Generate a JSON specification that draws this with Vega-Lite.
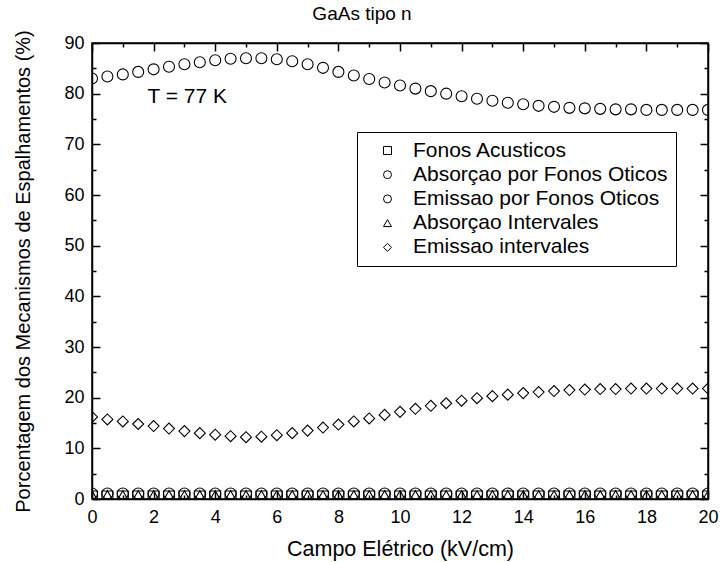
{
  "$schema": "https://vega.github.io/schema/vega-lite/v6.json",
  "width": 616,
  "height": 456,
  "autosize": {"type": "none"},
  "padding": {"left": 92, "top": 43, "right": 12, "bottom": 63},
  "background": "white",
  "title": {"text": "GaAs tipo n", "fontSize": 19, "fontWeight": "normal", "font": "Liberation Sans", "color": "black", "anchor": "middle", "dx": -38, "offset": 6},
  "config": {
    "view": {"stroke": "black", "strokeWidth": 1.5},
    "axis": {"labelFont": "Liberation Sans", "titleFont": "Liberation Sans", "labelFontSize": 18, "titleFontSize": 20, "titleFontWeight": "normal", "labelColor": "black", "titleColor": "black", "tickColor": "black", "domainColor": "black", "grid": false, "tickWidth": 1.5, "domainWidth": 1.5, "labelFlush": false, "labelOverlap": false}
  },
  "datasets": {
    "d": [
      {"campo": 0, "pct": 83.0, "serie": "Emissao por Fonos Oticos"},
      {"campo": 0.5, "pct": 83.4, "serie": "Emissao por Fonos Oticos"},
      {"campo": 1, "pct": 83.8, "serie": "Emissao por Fonos Oticos"},
      {"campo": 1.5, "pct": 84.3, "serie": "Emissao por Fonos Oticos"},
      {"campo": 2, "pct": 84.8, "serie": "Emissao por Fonos Oticos"},
      {"campo": 2.5, "pct": 85.3, "serie": "Emissao por Fonos Oticos"},
      {"campo": 3, "pct": 85.8, "serie": "Emissao por Fonos Oticos"},
      {"campo": 3.5, "pct": 86.2, "serie": "Emissao por Fonos Oticos"},
      {"campo": 4, "pct": 86.6, "serie": "Emissao por Fonos Oticos"},
      {"campo": 4.5, "pct": 86.9, "serie": "Emissao por Fonos Oticos"},
      {"campo": 5, "pct": 87.0, "serie": "Emissao por Fonos Oticos"},
      {"campo": 5.5, "pct": 87.0, "serie": "Emissao por Fonos Oticos"},
      {"campo": 6, "pct": 86.8, "serie": "Emissao por Fonos Oticos"},
      {"campo": 6.5, "pct": 86.4, "serie": "Emissao por Fonos Oticos"},
      {"campo": 7, "pct": 85.8, "serie": "Emissao por Fonos Oticos"},
      {"campo": 7.5, "pct": 85.1, "serie": "Emissao por Fonos Oticos"},
      {"campo": 8, "pct": 84.3, "serie": "Emissao por Fonos Oticos"},
      {"campo": 8.5, "pct": 83.6, "serie": "Emissao por Fonos Oticos"},
      {"campo": 9, "pct": 82.9, "serie": "Emissao por Fonos Oticos"},
      {"campo": 9.5, "pct": 82.2, "serie": "Emissao por Fonos Oticos"},
      {"campo": 10, "pct": 81.6, "serie": "Emissao por Fonos Oticos"},
      {"campo": 10.5, "pct": 81.0, "serie": "Emissao por Fonos Oticos"},
      {"campo": 11, "pct": 80.5, "serie": "Emissao por Fonos Oticos"},
      {"campo": 11.5, "pct": 80.0, "serie": "Emissao por Fonos Oticos"},
      {"campo": 12, "pct": 79.5, "serie": "Emissao por Fonos Oticos"},
      {"campo": 12.5, "pct": 79.0, "serie": "Emissao por Fonos Oticos"},
      {"campo": 13, "pct": 78.6, "serie": "Emissao por Fonos Oticos"},
      {"campo": 13.5, "pct": 78.2, "serie": "Emissao por Fonos Oticos"},
      {"campo": 14, "pct": 77.9, "serie": "Emissao por Fonos Oticos"},
      {"campo": 14.5, "pct": 77.6, "serie": "Emissao por Fonos Oticos"},
      {"campo": 15, "pct": 77.4, "serie": "Emissao por Fonos Oticos"},
      {"campo": 15.5, "pct": 77.2, "serie": "Emissao por Fonos Oticos"},
      {"campo": 16, "pct": 77.1, "serie": "Emissao por Fonos Oticos"},
      {"campo": 16.5, "pct": 77.0, "serie": "Emissao por Fonos Oticos"},
      {"campo": 17, "pct": 76.9, "serie": "Emissao por Fonos Oticos"},
      {"campo": 17.5, "pct": 76.9, "serie": "Emissao por Fonos Oticos"},
      {"campo": 18, "pct": 76.8, "serie": "Emissao por Fonos Oticos"},
      {"campo": 18.5, "pct": 76.8, "serie": "Emissao por Fonos Oticos"},
      {"campo": 19, "pct": 76.8, "serie": "Emissao por Fonos Oticos"},
      {"campo": 19.5, "pct": 76.8, "serie": "Emissao por Fonos Oticos"},
      {"campo": 20, "pct": 76.8, "serie": "Emissao por Fonos Oticos"},

      {"campo": 0, "pct": 16.2, "serie": "Emissao intervales"},
      {"campo": 0.5, "pct": 15.7, "serie": "Emissao intervales"},
      {"campo": 1, "pct": 15.3, "serie": "Emissao intervales"},
      {"campo": 1.5, "pct": 14.8, "serie": "Emissao intervales"},
      {"campo": 2, "pct": 14.4, "serie": "Emissao intervales"},
      {"campo": 2.5, "pct": 13.9, "serie": "Emissao intervales"},
      {"campo": 3, "pct": 13.4, "serie": "Emissao intervales"},
      {"campo": 3.5, "pct": 13.0, "serie": "Emissao intervales"},
      {"campo": 4, "pct": 12.7, "serie": "Emissao intervales"},
      {"campo": 4.5, "pct": 12.4, "serie": "Emissao intervales"},
      {"campo": 5, "pct": 12.2, "serie": "Emissao intervales"},
      {"campo": 5.5, "pct": 12.3, "serie": "Emissao intervales"},
      {"campo": 6, "pct": 12.6, "serie": "Emissao intervales"},
      {"campo": 6.5, "pct": 13.0, "serie": "Emissao intervales"},
      {"campo": 7, "pct": 13.5, "serie": "Emissao intervales"},
      {"campo": 7.5, "pct": 14.1, "serie": "Emissao intervales"},
      {"campo": 8, "pct": 14.7, "serie": "Emissao intervales"},
      {"campo": 8.5, "pct": 15.3, "serie": "Emissao intervales"},
      {"campo": 9, "pct": 15.9, "serie": "Emissao intervales"},
      {"campo": 9.5, "pct": 16.6, "serie": "Emissao intervales"},
      {"campo": 10, "pct": 17.2, "serie": "Emissao intervales"},
      {"campo": 10.5, "pct": 17.8, "serie": "Emissao intervales"},
      {"campo": 11, "pct": 18.4, "serie": "Emissao intervales"},
      {"campo": 11.5, "pct": 18.9, "serie": "Emissao intervales"},
      {"campo": 12, "pct": 19.4, "serie": "Emissao intervales"},
      {"campo": 12.5, "pct": 19.9, "serie": "Emissao intervales"},
      {"campo": 13, "pct": 20.3, "serie": "Emissao intervales"},
      {"campo": 13.5, "pct": 20.6, "serie": "Emissao intervales"},
      {"campo": 14, "pct": 20.9, "serie": "Emissao intervales"},
      {"campo": 14.5, "pct": 21.1, "serie": "Emissao intervales"},
      {"campo": 15, "pct": 21.3, "serie": "Emissao intervales"},
      {"campo": 15.5, "pct": 21.5, "serie": "Emissao intervales"},
      {"campo": 16, "pct": 21.6, "serie": "Emissao intervales"},
      {"campo": 16.5, "pct": 21.7, "serie": "Emissao intervales"},
      {"campo": 17, "pct": 21.7, "serie": "Emissao intervales"},
      {"campo": 17.5, "pct": 21.8, "serie": "Emissao intervales"},
      {"campo": 18, "pct": 21.8, "serie": "Emissao intervales"},
      {"campo": 18.5, "pct": 21.8, "serie": "Emissao intervales"},
      {"campo": 19, "pct": 21.8, "serie": "Emissao intervales"},
      {"campo": 19.5, "pct": 21.8, "serie": "Emissao intervales"},
      {"campo": 20, "pct": 21.8, "serie": "Emissao intervales"},

      {"campo": 0, "pct": 0.5, "serie": "Fonos Acusticos"},
      {"campo": 0.5, "pct": 0.5, "serie": "Fonos Acusticos"},
      {"campo": 1, "pct": 0.5, "serie": "Fonos Acusticos"},
      {"campo": 1.5, "pct": 0.5, "serie": "Fonos Acusticos"},
      {"campo": 2, "pct": 0.5, "serie": "Fonos Acusticos"},
      {"campo": 2.5, "pct": 0.5, "serie": "Fonos Acusticos"},
      {"campo": 3, "pct": 0.5, "serie": "Fonos Acusticos"},
      {"campo": 3.5, "pct": 0.5, "serie": "Fonos Acusticos"},
      {"campo": 4, "pct": 0.5, "serie": "Fonos Acusticos"},
      {"campo": 4.5, "pct": 0.5, "serie": "Fonos Acusticos"},
      {"campo": 5, "pct": 0.5, "serie": "Fonos Acusticos"},
      {"campo": 5.5, "pct": 0.5, "serie": "Fonos Acusticos"},
      {"campo": 6, "pct": 0.5, "serie": "Fonos Acusticos"},
      {"campo": 6.5, "pct": 0.5, "serie": "Fonos Acusticos"},
      {"campo": 7, "pct": 0.5, "serie": "Fonos Acusticos"},
      {"campo": 7.5, "pct": 0.5, "serie": "Fonos Acusticos"},
      {"campo": 8, "pct": 0.5, "serie": "Fonos Acusticos"},
      {"campo": 8.5, "pct": 0.5, "serie": "Fonos Acusticos"},
      {"campo": 9, "pct": 0.5, "serie": "Fonos Acusticos"},
      {"campo": 9.5, "pct": 0.5, "serie": "Fonos Acusticos"},
      {"campo": 10, "pct": 0.5, "serie": "Fonos Acusticos"},
      {"campo": 10.5, "pct": 0.5, "serie": "Fonos Acusticos"},
      {"campo": 11, "pct": 0.5, "serie": "Fonos Acusticos"},
      {"campo": 11.5, "pct": 0.5, "serie": "Fonos Acusticos"},
      {"campo": 12, "pct": 0.5, "serie": "Fonos Acusticos"},
      {"campo": 12.5, "pct": 0.5, "serie": "Fonos Acusticos"},
      {"campo": 13, "pct": 0.5, "serie": "Fonos Acusticos"},
      {"campo": 13.5, "pct": 0.5, "serie": "Fonos Acusticos"},
      {"campo": 14, "pct": 0.5, "serie": "Fonos Acusticos"},
      {"campo": 14.5, "pct": 0.5, "serie": "Fonos Acusticos"},
      {"campo": 15, "pct": 0.5, "serie": "Fonos Acusticos"},
      {"campo": 15.5, "pct": 0.5, "serie": "Fonos Acusticos"},
      {"campo": 16, "pct": 0.5, "serie": "Fonos Acusticos"},
      {"campo": 16.5, "pct": 0.5, "serie": "Fonos Acusticos"},
      {"campo": 17, "pct": 0.5, "serie": "Fonos Acusticos"},
      {"campo": 17.5, "pct": 0.5, "serie": "Fonos Acusticos"},
      {"campo": 18, "pct": 0.5, "serie": "Fonos Acusticos"},
      {"campo": 18.5, "pct": 0.5, "serie": "Fonos Acusticos"},
      {"campo": 19, "pct": 0.5, "serie": "Fonos Acusticos"},
      {"campo": 19.5, "pct": 0.5, "serie": "Fonos Acusticos"},
      {"campo": 20, "pct": 0.5, "serie": "Fonos Acusticos"},

      {"campo": 0, "pct": 1.1, "serie": "Absorçao por Fonos Oticos"},
      {"campo": 0.5, "pct": 1.1, "serie": "Absorçao por Fonos Oticos"},
      {"campo": 1, "pct": 1.1, "serie": "Absorçao por Fonos Oticos"},
      {"campo": 1.5, "pct": 1.1, "serie": "Absorçao por Fonos Oticos"},
      {"campo": 2, "pct": 1.1, "serie": "Absorçao por Fonos Oticos"},
      {"campo": 2.5, "pct": 1.1, "serie": "Absorçao por Fonos Oticos"},
      {"campo": 3, "pct": 1.1, "serie": "Absorçao por Fonos Oticos"},
      {"campo": 3.5, "pct": 1.1, "serie": "Absorçao por Fonos Oticos"},
      {"campo": 4, "pct": 1.1, "serie": "Absorçao por Fonos Oticos"},
      {"campo": 4.5, "pct": 1.1, "serie": "Absorçao por Fonos Oticos"},
      {"campo": 5, "pct": 1.1, "serie": "Absorçao por Fonos Oticos"},
      {"campo": 5.5, "pct": 1.1, "serie": "Absorçao por Fonos Oticos"},
      {"campo": 6, "pct": 1.1, "serie": "Absorçao por Fonos Oticos"},
      {"campo": 6.5, "pct": 1.1, "serie": "Absorçao por Fonos Oticos"},
      {"campo": 7, "pct": 1.1, "serie": "Absorçao por Fonos Oticos"},
      {"campo": 7.5, "pct": 1.1, "serie": "Absorçao por Fonos Oticos"},
      {"campo": 8, "pct": 1.1, "serie": "Absorçao por Fonos Oticos"},
      {"campo": 8.5, "pct": 1.1, "serie": "Absorçao por Fonos Oticos"},
      {"campo": 9, "pct": 1.1, "serie": "Absorçao por Fonos Oticos"},
      {"campo": 9.5, "pct": 1.1, "serie": "Absorçao por Fonos Oticos"},
      {"campo": 10, "pct": 1.1, "serie": "Absorçao por Fonos Oticos"},
      {"campo": 10.5, "pct": 1.1, "serie": "Absorçao por Fonos Oticos"},
      {"campo": 11, "pct": 1.1, "serie": "Absorçao por Fonos Oticos"},
      {"campo": 11.5, "pct": 1.1, "serie": "Absorçao por Fonos Oticos"},
      {"campo": 12, "pct": 1.1, "serie": "Absorçao por Fonos Oticos"},
      {"campo": 12.5, "pct": 1.1, "serie": "Absorçao por Fonos Oticos"},
      {"campo": 13, "pct": 1.1, "serie": "Absorçao por Fonos Oticos"},
      {"campo": 13.5, "pct": 1.1, "serie": "Absorçao por Fonos Oticos"},
      {"campo": 14, "pct": 1.1, "serie": "Absorçao por Fonos Oticos"},
      {"campo": 14.5, "pct": 1.1, "serie": "Absorçao por Fonos Oticos"},
      {"campo": 15, "pct": 1.1, "serie": "Absorçao por Fonos Oticos"},
      {"campo": 15.5, "pct": 1.1, "serie": "Absorçao por Fonos Oticos"},
      {"campo": 16, "pct": 1.1, "serie": "Absorçao por Fonos Oticos"},
      {"campo": 16.5, "pct": 1.1, "serie": "Absorçao por Fonos Oticos"},
      {"campo": 17, "pct": 1.1, "serie": "Absorçao por Fonos Oticos"},
      {"campo": 17.5, "pct": 1.1, "serie": "Absorçao por Fonos Oticos"},
      {"campo": 18, "pct": 1.1, "serie": "Absorçao por Fonos Oticos"},
      {"campo": 18.5, "pct": 1.1, "serie": "Absorçao por Fonos Oticos"},
      {"campo": 19, "pct": 1.1, "serie": "Absorçao por Fonos Oticos"},
      {"campo": 19.5, "pct": 1.1, "serie": "Absorçao por Fonos Oticos"},
      {"campo": 20, "pct": 1.1, "serie": "Absorçao por Fonos Oticos"},

      {"campo": 0, "pct": 0.7, "serie": "Absorçao Intervales"},
      {"campo": 0.5, "pct": 0.7, "serie": "Absorçao Intervales"},
      {"campo": 1, "pct": 0.7, "serie": "Absorçao Intervales"},
      {"campo": 1.5, "pct": 0.7, "serie": "Absorçao Intervales"},
      {"campo": 2, "pct": 0.7, "serie": "Absorçao Intervales"},
      {"campo": 2.5, "pct": 0.7, "serie": "Absorçao Intervales"},
      {"campo": 3, "pct": 0.7, "serie": "Absorçao Intervales"},
      {"campo": 3.5, "pct": 0.7, "serie": "Absorçao Intervales"},
      {"campo": 4, "pct": 0.7, "serie": "Absorçao Intervales"},
      {"campo": 4.5, "pct": 0.7, "serie": "Absorçao Intervales"},
      {"campo": 5, "pct": 0.7, "serie": "Absorçao Intervales"},
      {"campo": 5.5, "pct": 0.7, "serie": "Absorçao Intervales"},
      {"campo": 6, "pct": 0.7, "serie": "Absorçao Intervales"},
      {"campo": 6.5, "pct": 0.7, "serie": "Absorçao Intervales"},
      {"campo": 7, "pct": 0.7, "serie": "Absorçao Intervales"},
      {"campo": 7.5, "pct": 0.7, "serie": "Absorçao Intervales"},
      {"campo": 8, "pct": 0.7, "serie": "Absorçao Intervales"},
      {"campo": 8.5, "pct": 0.7, "serie": "Absorçao Intervales"},
      {"campo": 9, "pct": 0.7, "serie": "Absorçao Intervales"},
      {"campo": 9.5, "pct": 0.7, "serie": "Absorçao Intervales"},
      {"campo": 10, "pct": 0.7, "serie": "Absorçao Intervales"},
      {"campo": 10.5, "pct": 0.7, "serie": "Absorçao Intervales"},
      {"campo": 11, "pct": 0.7, "serie": "Absorçao Intervales"},
      {"campo": 11.5, "pct": 0.7, "serie": "Absorçao Intervales"},
      {"campo": 12, "pct": 0.7, "serie": "Absorçao Intervales"},
      {"campo": 12.5, "pct": 0.7, "serie": "Absorçao Intervales"},
      {"campo": 13, "pct": 0.7, "serie": "Absorçao Intervales"},
      {"campo": 13.5, "pct": 0.7, "serie": "Absorçao Intervales"},
      {"campo": 14, "pct": 0.7, "serie": "Absorçao Intervales"},
      {"campo": 14.5, "pct": 0.7, "serie": "Absorçao Intervales"},
      {"campo": 15, "pct": 0.7, "serie": "Absorçao Intervales"},
      {"campo": 15.5, "pct": 0.7, "serie": "Absorçao Intervales"},
      {"campo": 16, "pct": 0.7, "serie": "Absorçao Intervales"},
      {"campo": 16.5, "pct": 0.7, "serie": "Absorçao Intervales"},
      {"campo": 17, "pct": 0.7, "serie": "Absorçao Intervales"},
      {"campo": 17.5, "pct": 0.7, "serie": "Absorçao Intervales"},
      {"campo": 18, "pct": 0.7, "serie": "Absorçao Intervales"},
      {"campo": 18.5, "pct": 0.7, "serie": "Absorçao Intervales"},
      {"campo": 19, "pct": 0.7, "serie": "Absorçao Intervales"},
      {"campo": 19.5, "pct": 0.7, "serie": "Absorçao Intervales"},
      {"campo": 20, "pct": 0.7, "serie": "Absorçao Intervales"}
    ]
  },
  "data": {"name": "d"},
  "layer": [
    {
      "mark": {"type": "point", "filled": false, "color": "black", "size": 121, "strokeWidth": 1.1, "opacity": 1, "clip": true},
      "encoding": {
        "x": {"field": "campo", "type": "quantitative", "scale": {"domain": [0, 20], "nice": false, "zero": false},
          "axis": {"orient": "bottom", "values": [0, 2, 4, 6, 8, 10, 12, 14, 16, 18, 20], "tickSize": -8, "labelPadding": 17, "title": "Campo Elétrico (kV/cm)", "titleFontSize": 21.5, "titlePadding": 12}},
        "y": {"field": "pct", "type": "quantitative", "scale": {"domain": [0, 90], "nice": false},
          "axis": {"orient": "left", "values": [0, 10, 20, 30, 40, 50, 60, 70, 80, 90], "tickSize": -8, "labelPadding": 16, "title": "Porcentagem dos Mecanismos de Espalhamentos (%)", "titlePadding": 30}},
        "shape": {"field": "serie", "type": "nominal",
          "scale": {"domain": ["Fonos Acusticos", "Absorçao por Fonos Oticos", "Emissao por Fonos Oticos", "Absorçao Intervales", "Emissao intervales"], "range": ["square", "circle", "circle", "triangle-up", "diamond"]},
          "legend": {"orient": "none", "legendX": 265, "legendY": 89, "title": null, "strokeColor": "black", "fillColor": "white", "padding": 8, "labelFontSize": 21, "labelFont": "Liberation Sans", "labelColor": "black", "labelLimit": 400, "symbolSize": 64, "symbolStrokeWidth": 1, "symbolStrokeColor": "black", "symbolFillColor": "transparent", "symbolOffset": 12, "labelOffset": 15, "rowPadding": 2.2}}
      }
    },
    {
      "mark": {"type": "point", "opacity": 0},
      "encoding": {
        "x": {"field": "campo", "type": "quantitative", "scale": {"domain": [0, 20], "nice": false, "zero": false},
          "axis": {"orient": "top", "values": [0, 2, 4, 6, 8, 10, 12, 14, 16, 18, 20], "tickSize": -8, "labels": false, "title": null}},
        "y": {"field": "pct", "type": "quantitative", "scale": {"domain": [0, 90], "nice": false},
          "axis": {"orient": "right", "values": [0, 10, 20, 30, 40, 50, 60, 70, 80, 90], "tickSize": -8, "labels": false, "title": null}}
      }
    },
    {
      "mark": {"type": "point", "opacity": 0},
      "encoding": {
        "x": {"field": "campo", "type": "quantitative", "scale": {"domain": [0, 20], "nice": false, "zero": false},
          "axis": {"orient": "bottom", "values": [1, 3, 5, 7, 9, 11, 13, 15, 17, 19], "tickSize": -4, "labels": false, "title": null, "domain": false}},
        "y": {"field": "pct", "type": "quantitative", "scale": {"domain": [0, 90], "nice": false},
          "axis": {"orient": "left", "values": [5, 15, 25, 35, 45, 55, 65, 75, 85], "tickSize": -4, "labels": false, "title": null, "domain": false}}
      }
    },
    {
      "mark": {"type": "point", "opacity": 0},
      "encoding": {
        "x": {"field": "campo", "type": "quantitative", "scale": {"domain": [0, 20], "nice": false, "zero": false},
          "axis": {"orient": "top", "values": [1, 3, 5, 7, 9, 11, 13, 15, 17, 19], "tickSize": -4, "labels": false, "title": null, "domain": false}},
        "y": {"field": "pct", "type": "quantitative", "scale": {"domain": [0, 90], "nice": false},
          "axis": {"orient": "right", "values": [5, 15, 25, 35, 45, 55, 65, 75, 85], "tickSize": -4, "labels": false, "title": null, "domain": false}}
      }
    },
    {
      "data": {"values": [{"campo": 1.8, "pct": 79.3, "rotulo": "T = 77 K"}]},
      "mark": {"type": "text", "align": "left", "baseline": "middle", "fontSize": 21, "font": "Liberation Sans", "color": "black"},
      "encoding": {
        "x": {"field": "campo", "type": "quantitative", "scale": {"domain": [0, 20], "nice": false, "zero": false}, "axis": null},
        "y": {"field": "pct", "type": "quantitative", "scale": {"domain": [0, 90], "nice": false}, "axis": null},
        "text": {"field": "rotulo"}
      }
    }
  ],
  "resolve": {"axis": {"x": "independent", "y": "independent"}}
}
